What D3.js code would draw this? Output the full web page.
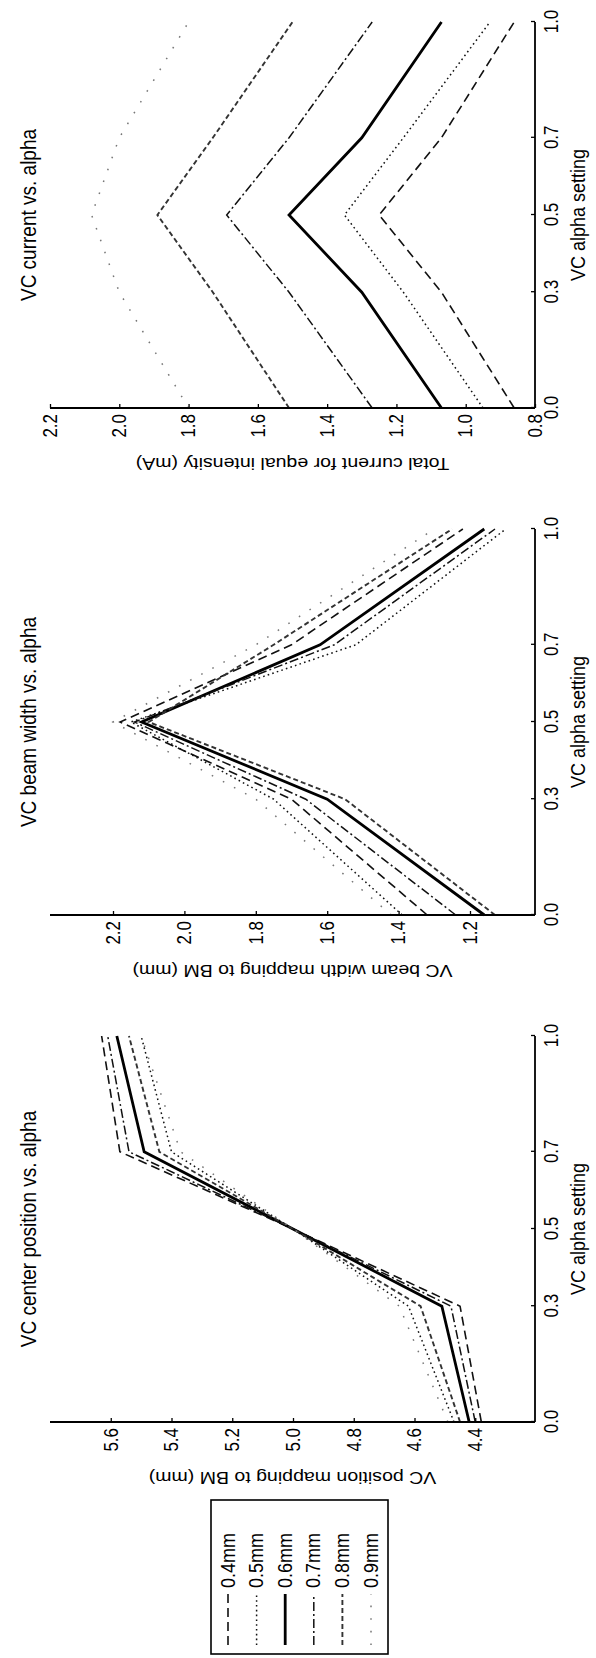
<!DOCTYPE html>
<html><head><meta charset="utf-8">
<script src="https://cdn.jsdelivr.net/npm/d3@7"></script>
<style>body{margin:0;background:#fff}</style>
</head><body>
<svg id="c" width="596" height="1658"></svg>
<script>
// ---- data ----
const alphaSettings = [0, 0.3, 0.5, 0.7, 1.0];
const xTicks = [0, 0.3, 0.5, 0.7, 1.0];
const seriesNames = ["0.4mm", "0.5mm", "0.6mm", "0.7mm", "0.8mm", "0.9mm"];

// VC center position (mm), one row per series
const centerPosition = [
  [4.38, 4.45, 5.00, 5.57, 5.63],
  [4.47, 4.62, 5.00, 5.40, 5.50],
  [4.42, 4.51, 5.00, 5.49, 5.58],
  [4.40, 4.48, 5.00, 5.54, 5.61],
  [4.45, 4.58, 5.00, 5.44, 5.54],
  [4.49, 4.65, 5.00, 5.37, 5.50]
];
const centerTicks = [4.4, 4.6, 4.8, 5.0, 5.2, 5.4, 5.6];

// VC beam width (mm)
const beamWidth = [
  [1.32, 1.70, 2.18, 1.70, 1.22],
  [1.39, 1.75, 2.15, 1.52, 1.10],
  [1.16, 1.60, 2.12, 1.62, 1.16],
  [1.24, 1.66, 2.14, 1.58, 1.13],
  [1.13, 1.55, 2.10, 1.75, 1.25],
  [1.42, 1.80, 2.20, 1.80, 1.30]
];
const widthTicks = [1.2, 1.4, 1.6, 1.8, 2.0, 2.2];

// Total current (mA)
const totalCurrent = [
  [0.86, 1.07, 1.25, 1.07, 0.86],
  [0.95, 1.18, 1.35, 1.18, 0.93],
  [1.07, 1.30, 1.51, 1.30, 1.07],
  [1.27, 1.51, 1.69, 1.51, 1.27],
  [1.51, 1.73, 1.89, 1.73, 1.50],
  [1.80, 2.00, 2.08, 2.00, 1.80]
];
const currentTicks = [0.8, 1.0, 1.2, 1.4, 1.6, 1.8, 2.0, 2.2];

// ---- styles ----
const lineStyles = [
  {dash: "9,5", w: 1.6, c: "#111"},
  {dash: "1.6,3.2", w: 1.5, c: "#111"},
  {dash: null, w: 2.8, c: "#000"},
  {dash: "9,3,2,3", w: 1.5, c: "#111"},
  {dash: "5,3", w: 1.9, c: "#333"},
  {dash: "1.6,11", w: 1.5, c: "#777"}
];
const FONT = "'Liberation Sans', Arial, sans-serif";
const STRETCH = 1.15;   // scanned figure: glyphs slightly taller than wide

const svg = d3.select('#c');
svg.append('rect').attr('width', 596).attr('height', 1658).attr('fill', '#fff');
// whole figure is drawn in landscape and rotated -90deg
const g = svg.append('g').attr('transform', 'translate(0,1658) rotate(-90)');

const plotTop = 50, plotBottom = 535, plotW = 386;
const panels = [
  {u0: 236, title: "VC center position vs.  alpha", ylabel: "VC position mapping to BM (mm)",
   data: centerPosition, yDomain: [4.2, 5.8], yRange: [536, 50], yTicks: centerTicks},
  {u0: 743, title: "VC beam width vs.  alpha", ylabel: "VC beam width mapping to BM (mm)",
   data: beamWidth, yDomain: [1.2, 2.2], yRange: [470, 113], yTicks: widthTicks},
  {u0: 1250, title: "VC current vs.  alpha", ylabel: "Total current for equal intensity (mA)",
   data: totalCurrent, yDomain: [0.8, 2.2], yRange: [535, 50], yTicks: currentTicks}
];

function label(parent, x, y, txt, size, anchor, rot) {
  return parent.append('text')
    .attr('transform', `translate(${x},${y}) scale(1,${STRETCH})` + (rot ? ` rotate(${rot})` : ''))
    .attr('text-anchor', anchor).attr('font-family', FONT).attr('font-size', size)
    .attr('fill', '#000').text(txt);
}

panels.forEach(p => {
  const x = d3.scaleLinear().domain([0, 1]).range([p.u0, p.u0 + plotW]);
  const y = d3.scaleLinear().domain(p.yDomain).range(p.yRange);
  const pg = g.append('g');

  const line = d3.line().x((d, i) => x(alphaSettings[i])).y(d => y(d));
  p.data.forEach((row, k) => {
    const s = lineStyles[k];
    pg.append('path').attr('d', line(row)).attr('fill', 'none')
      .attr('stroke', s.c).attr('stroke-width', s.w)
      .attr('stroke-dasharray', s.dash).attr('stroke-linecap', 'butt');
  });

  pg.append('line').attr('x1', p.u0).attr('x2', p.u0).attr('y1', plotTop).attr('y2', plotBottom)
    .attr('stroke', '#000').attr('stroke-width', 1.8);
  pg.append('line').attr('x1', p.u0).attr('x2', p.u0 + plotW).attr('y1', plotBottom).attr('y2', plotBottom)
    .attr('stroke', '#000').attr('stroke-width', 1.8);

  const xa = pg.append('g').attr('transform', `translate(0,${plotBottom})`)
    .call(d3.axisBottom(x).tickValues(xTicks).tickFormat(d3.format('.1f'))
      .tickSizeInner(-4).tickSizeOuter(0).tickPadding(8));
  const ya = pg.append('g').attr('transform', `translate(${p.u0},0)`)
    .call(d3.axisLeft(y).tickValues(p.yTicks).tickFormat(d3.format('.1f'))
      .tickSizeInner(-4).tickSizeOuter(0).tickPadding(6));
  [xa, ya].forEach(a => {
    a.select('.domain').remove();
    a.selectAll('text').attr('font-family', FONT).attr('font-size', 17).attr('fill', '#000')
      .attr('transform', `scale(1,${STRETCH})`);
    a.selectAll('line').attr('stroke', '#000').attr('stroke-width', 1.3);
  });

  label(pg, p.u0 + plotW / 2, 36, p.title, 19, 'middle');
  label(pg, p.u0 + plotW / 2, 585, "VC alpha setting", 18, 'middle');
  label(pg, p.u0 - 50, (plotTop + plotBottom) / 2, p.ylabel, 17, 'middle', -90);
});

// legend
const lg = g.append('g');
lg.append('rect').attr('x', 4).attr('y', 211).attr('width', 154).attr('height', 177)
  .attr('fill', '#fff').attr('stroke', '#000').attr('stroke-width', 1.6);
seriesNames.forEach((name, k) => {
  const s = lineStyles[k];
  const v = 228 + k * 28.6;
  lg.append('line').attr('x1', 13).attr('x2', 64).attr('y1', v).attr('y2', v)
    .attr('stroke', s.c).attr('stroke-width', s.w).attr('stroke-dasharray', s.dash);
  label(lg, 70, v + 6.5, name, 18, 'start');
});
</script>
</body></html>
